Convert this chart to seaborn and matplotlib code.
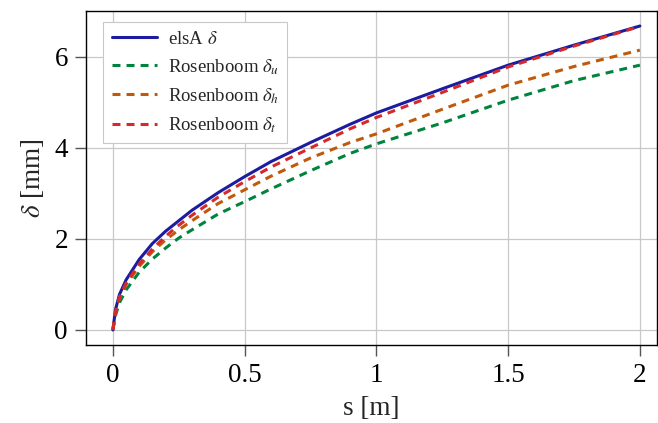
import matplotlib
matplotlib.use("Agg")
import matplotlib.pyplot as plt
import seaborn as sns
import pandas as pd

s = [0, 0.01, 0.025, 0.05, 0.1, 0.15, 0.2, 0.25, 0.3, 0.4, 0.5, 0.6, 0.75, 0.9, 1.0, 1.25, 1.5, 1.75, 2.0]
elsa = [0, 0.45, 0.78, 1.10, 1.55, 1.90, 2.17, 2.40, 2.63, 3.02, 3.37, 3.70, 4.12, 4.52, 4.77, 5.30, 5.82, 6.26, 6.68]
ros_t = [0, 0.40, 0.72, 1.03, 1.45, 1.78, 2.06, 2.30, 2.52, 2.92, 3.26, 3.58, 4.00, 4.42, 4.67, 5.22, 5.78, 6.24, 6.67]
ros_h = [0, 0.38, 0.70, 1.00, 1.40, 1.72, 1.98, 2.20, 2.40, 2.78, 3.08, 3.38, 3.78, 4.12, 4.31, 4.85, 5.38, 5.79, 6.15]
ros_u = [0, 0.32, 0.60, 0.88, 1.27, 1.56, 1.80, 2.02, 2.20, 2.55, 2.82, 3.10, 3.50, 3.88, 4.09, 4.55, 5.05, 5.48, 5.82]

xticks = [0, 0.5, 1, 1.5, 2]
xticklabels = ["0", "0.5", "1", "1.5", "2"]
yticks = [0, 2, 4, 6]

sns.set_style("whitegrid")
plt.rcParams['font.family'] = ['Liberation Serif', 'DejaVu Serif']
plt.rcParams['mathtext.fontset'] = 'stix'

fig = plt.figure(figsize=(6.58, 4.23), dpi=100)
ax = fig.add_axes([0.1307, 0.1844, 0.8678, 0.7896])

series = [
    (elsa, r"elsA $\delta$", "#1c1ca0", "-"),
    (ros_u, r"Rosenboom $\delta_u$", "#00843d", "--"),
    (ros_h, r"Rosenboom $\delta_h$", "#c05a0a", "--"),
    (ros_t, r"Rosenboom $\delta_t$", "#d42a2a", "--"),
]
for vals, lab, col, ls in series:
    df = pd.DataFrame({"s": s, "d": vals})
    sns.lineplot(data=df, x="s", y="d", ax=ax, color=col, label=lab,
                 linewidth=2.2, linestyle=ls)
for line, (_, _, _, ls) in zip(ax.get_lines(), series):
    if ls == "--":
        line.set_dashes((2.6, 2.0))

ax.set_xlim(-0.102, 2.065)
ax.set_ylim(-0.33, 7.01)
ax.set_xticks(xticks)
ax.set_xticklabels(xticklabels)
ax.set_yticks(yticks)
ax.grid(True, color="#c8c8c8", linewidth=0.9)
for sp in ax.spines.values():
    sp.set_color("black")
    sp.set_linewidth(1.0)
ax.tick_params(axis="both", direction="out", length=8, width=1.0,
               color="#555555", labelsize=19.5, pad=5, labelcolor="black",
               bottom=True, left=True)
ax.set_xlabel("s [m]", fontsize=19.5, labelpad=6)
ax.set_ylabel(r"$\delta$ [mm]", fontsize=19.5, labelpad=6)

leg = ax.legend(loc="upper left", fontsize=13.5, frameon=True, fancybox=False,
                framealpha=1.0, edgecolor="#c8c8c8", borderpad=0.45,
                handlelength=2.4, handletextpad=0.6, labelspacing=0.5,
                borderaxespad=0, bbox_to_anchor=(0.03, 0.967))
leg.get_frame().set_linewidth(0.8)

fig.savefig("out.png", dpi=100)
